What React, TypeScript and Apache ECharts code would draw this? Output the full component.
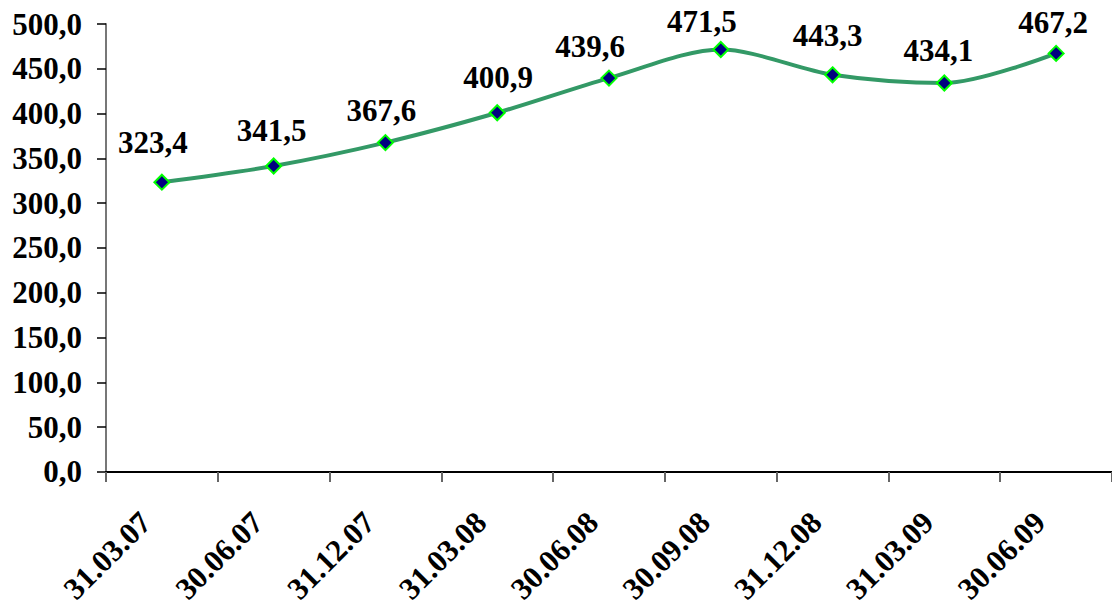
import React, { useEffect, useRef } from "react";
import * as echarts from "echarts";

const categories = ["31.03.07", "30.06.07", "31.12.07", "31.03.08", "30.06.08", "30.09.08", "31.12.08", "31.03.09", "30.06.09"];
const values = [323.4, 341.5, 367.6, 400.9, 439.6, 471.5, 443.3, 434.1, 467.2];
const yMin = 0;
const yMax = 500;
const yStep = 50;
// label placement nudges (horizontal shift, gap above marker)
const labelShiftX = [-9, -2, -4, 1, -19, -19, -5, -6, -3];
const labelGap = [16, 11, 8, 11, 8, 4, 15, 9, 7];

const FONT = '"Liberation Serif", "Times New Roman", serif';
const fmt = (v: number) => v.toFixed(1).replace(".", ",");

export default function App() {
  const ref = useRef<HTMLDivElement>(null);
  useEffect(() => {
    if (!ref.current) return;
    const chart = echarts.init(ref.current, null, { renderer: "svg" });
    const seriesData = values.map((v, i) => ({
      value: v,
      label: { distance: labelGap[i], offset: [labelShiftX[i], 0] },
    }));
    chart.setOption({
      animation: false,
      backgroundColor: "#ffffff",
      grid: { left: 106, right: 0, top: 24, bottom: 134, containLabel: false },
      xAxis: {
        type: "category",
        data: categories,
        boundaryGap: true,
        axisLine: { lineStyle: { color: "#000000", width: 2 } },
        axisTick: { show: true, length: 10, interval: 0, lineStyle: { color: "#666666", width: 2 } },
        axisLabel: {
          interval: 0,
          rotate: 45,
          margin: 29,
          fontFamily: FONT,
          fontWeight: "bold",
          fontSize: 31,
          color: "#000000",
          formatter: (v: string) => `{t|${v}}{s| }`,
          rich: {
            t: { fontFamily: FONT, fontWeight: "bold", fontSize: 31, color: "#000000" },
            s: { width: 23, fontSize: 31 },
          },
        },
        splitLine: { show: false },
      },
      yAxis: {
        type: "value",
        min: yMin,
        max: yMax,
        interval: yStep,
        axisLine: { show: true, lineStyle: { color: "#777777", width: 2 } },
        axisTick: { show: true, length: 9, lineStyle: { color: "#000000", width: 1.5 } },
        axisLabel: {
          margin: 24,
          fontFamily: FONT,
          fontWeight: "bold",
          fontSize: 31,
          color: "#000000",
          formatter: (v: number) => fmt(v),
        },
        splitLine: { show: false },
      },
      series: [
        {
          type: "line",
          data: seriesData,
          smooth: 0.3,
          symbol: "diamond",
          symbolSize: 15,
          lineStyle: { color: "#339966", width: 4 },
          itemStyle: { color: "#000080", borderColor: "#00ff00", borderWidth: 2 },
          label: {
            show: true,
            position: "top",
            fontFamily: FONT,
            fontWeight: "bold",
            fontSize: 31,
            color: "#000000",
            formatter: (p: any) => fmt(p.value),
          },
        },
      ],
    });
    return () => chart.dispose();
  }, []);
  return (
    <div
      ref={ref}
      style={{ position: "fixed", left: 0, top: 0, width: 1112, height: 607, background: "#fff" }}
    />
  );
}
